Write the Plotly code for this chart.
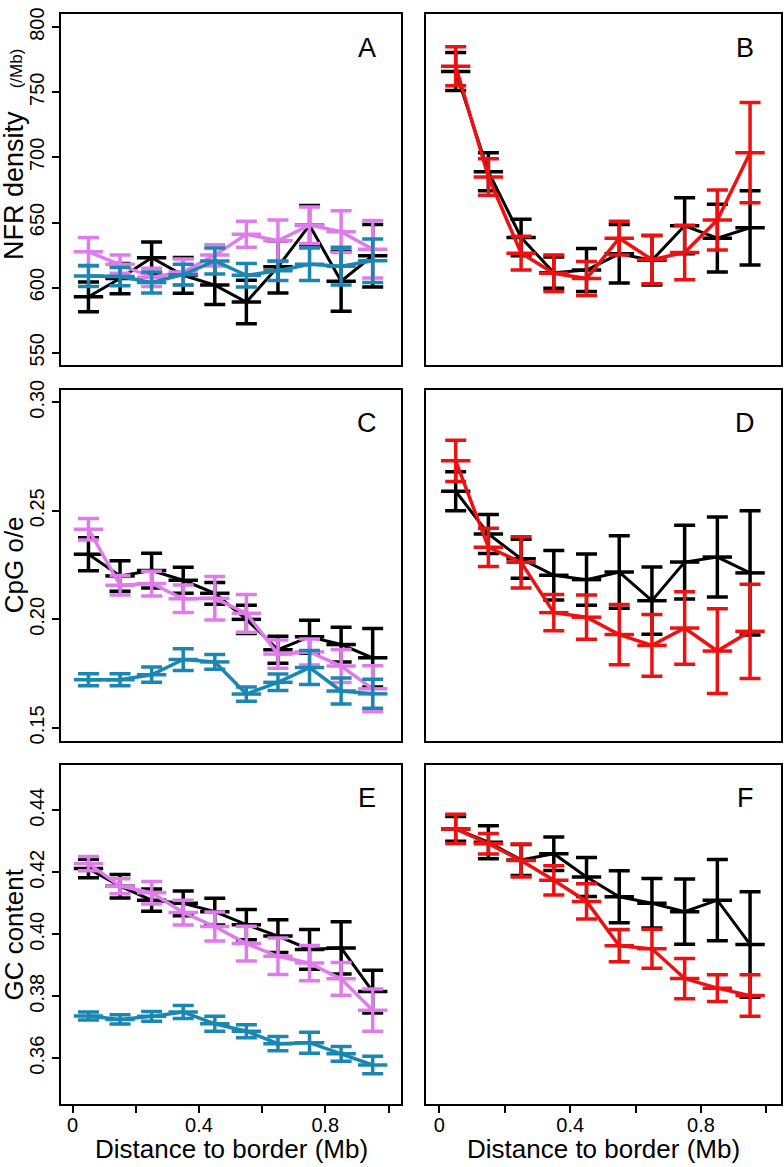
import plotly.graph_objects as go

# ---------------- data ----------------
distance = [0.05, 0.15, 0.25, 0.35, 0.45, 0.55, 0.65, 0.75, 0.85, 0.95]

# Panel A: NFR density
nfr_a_black = [593, 607, 623, 609.5, 602, 589, 616, 648, 605, 624.5]
nfr_a_black_se = [11.4, 11.6, 12, 13.7, 15, 16.7, 20, 15, 23, 24]
nfr_a_violet = [627.5, 618, 608, 612, 625, 641, 636, 648, 643, 629.5]
nfr_a_violet_se = [11, 7, 7, 10, 8, 10, 16, 14, 16, 22]
nfr_a_blue = [609, 608.5, 604, 610, 620.5, 609.5, 613, 618, 616.5, 620.6]
nfr_a_blue_se = [8, 7, 8, 8, 10, 9, 7.5, 12.5, 14.5, 16.7]

# Panel B: NFR density
nfr_b_black = [766, 689, 638.5, 611.5, 613.5, 626, 621, 647.5, 638, 646]
nfr_b_black_se = [14.6, 14.5, 14, 12, 16.5, 22.5, 19, 21.5, 26, 28.5]
nfr_b_red = [770, 685, 626.5, 611, 607, 638, 621.5, 627, 652, 703.6]
nfr_b_red_se = [15, 14, 13, 14, 13, 13, 18.5, 21, 23, 38.5]

# Panel C: CpG o/e
cpg_c_black = [0.230, 0.220, 0.2225, 0.218, 0.212, 0.200, 0.186, 0.192, 0.1884, 0.1823]
cpg_c_black_se = [0.0076, 0.007, 0.008, 0.006, 0.005, 0.0065, 0.0062, 0.0076, 0.008, 0.0135]
cpg_c_violet = [0.2415, 0.2157, 0.2165, 0.2095, 0.2097, 0.2028, 0.184, 0.185, 0.1785, 0.168]
cpg_c_violet_se = [0.005, 0.0045, 0.0057, 0.0063, 0.010, 0.0087, 0.0065, 0.006, 0.0076, 0.0106]
cpg_c_blue = [0.1722, 0.1722, 0.1745, 0.1815, 0.1804, 0.1656, 0.171, 0.1778, 0.167, 0.1657]
cpg_c_blue_se = [0.0028, 0.0028, 0.0035, 0.005, 0.0034, 0.0033, 0.0038, 0.0078, 0.006, 0.0067]

# Panel D: CpG o/e
cpg_d_black = [0.259, 0.2393, 0.2279, 0.2203, 0.2183, 0.2218, 0.2086, 0.2264, 0.2287, 0.2214]
cpg_d_black_se = [0.009, 0.009, 0.009, 0.0114, 0.0118, 0.0167, 0.0155, 0.017, 0.0184, 0.0286]
cpg_d_red = [0.273, 0.2332, 0.2263, 0.2031, 0.201, 0.193, 0.188, 0.196, 0.1854, 0.1945]
cpg_d_red_se = [0.0095, 0.0088, 0.0118, 0.0084, 0.0102, 0.0139, 0.0142, 0.0167, 0.0195, 0.0217]

# Panel E: GC content
gc_e_black = [0.4212, 0.4155, 0.411, 0.410, 0.4073, 0.4031, 0.3994, 0.3951, 0.3956, 0.3815]
gc_e_black_se = [0.003, 0.0038, 0.0036, 0.004, 0.0043, 0.0049, 0.0053, 0.0064, 0.0084, 0.0069]
gc_e_violet = [0.4228, 0.4155, 0.4134, 0.407, 0.4025, 0.397, 0.3929, 0.3907, 0.3856, 0.3755]
gc_e_violet_se = [0.0023, 0.0024, 0.0036, 0.004, 0.0047, 0.0056, 0.0059, 0.0057, 0.0053, 0.0068]
gc_e_blue = [0.3736, 0.3725, 0.3735, 0.3749, 0.3711, 0.3687, 0.3647, 0.365, 0.3614, 0.3578]
gc_e_blue_se = [0.0013, 0.0015, 0.0016, 0.0021, 0.0024, 0.0021, 0.0023, 0.0034, 0.0024, 0.0028]

# Panel F: GC content
gc_f_black = [0.434, 0.4297, 0.424, 0.426, 0.4185, 0.4121, 0.410, 0.4073, 0.411, 0.3967]
gc_f_black_se = [0.004, 0.0053, 0.005, 0.0054, 0.0063, 0.0084, 0.008, 0.0105, 0.0131, 0.017]
gc_f_red = [0.434, 0.4292, 0.4238, 0.4174, 0.4106, 0.3963, 0.3953, 0.3857, 0.3826, 0.3802]
gc_f_red_se = [0.0047, 0.0033, 0.0053, 0.0047, 0.0057, 0.0052, 0.0063, 0.0065, 0.0043, 0.0067]

x_tickvals = [0, 0.2, 0.4, 0.6, 0.8, 1.0]
x_ticktext = ["0", "", "0.4", "", "0.8", ""]
nfr_ticks = [550, 600, 650, 700, 750, 800]
cpg_ticks = [0.15, 0.20, 0.25, 0.30]
cpg_ticktext = ["0.15", "0.20", "0.25", "0.30"]
gc_ticks = [0.36, 0.38, 0.40, 0.42, 0.44]
gc_ticktext = ["0.36", "0.38", "0.40", "0.42", "0.44"]
panel_letters = ["A", "B", "C", "D", "E", "F"]

BLACK = "#000000"
VIOLET = "#E07BEB"
BLUE = "#1A87B3"
RED = "#EE1111"
FONT = "Liberation Sans, Arial, Helvetica, sans-serif"

W, H = 784, 1167


def px_x(v):
    return v / W


def px_y(v):
    return 1 - v / H


fig = go.Figure()


def add_series(idx, y, se, color, lw):
    suffix = "" if idx == 1 else str(idx)
    fig.add_trace(go.Scatter(
        x=distance, y=y, mode="lines+markers",
        line=dict(color=color, width=lw),
        marker=dict(symbol="line-ew", size=21, color=color,
                    line=dict(color=color, width=3.5)),
        error_y=dict(type="data", array=se, visible=True, color=color,
                     thickness=3.5, width=10.5),
        xaxis="x" + suffix, yaxis="y" + suffix,
        showlegend=False, hoverinfo="skip",
    ))


add_series(1, nfr_a_black, nfr_a_black_se, BLACK, 3)
add_series(1, nfr_a_violet, nfr_a_violet_se, VIOLET, 3.5)
add_series(1, nfr_a_blue, nfr_a_blue_se, BLUE, 3.5)
add_series(2, nfr_b_black, nfr_b_black_se, BLACK, 3)
add_series(2, nfr_b_red, nfr_b_red_se, RED, 3.5)
add_series(3, cpg_c_black, cpg_c_black_se, BLACK, 3)
add_series(3, cpg_c_violet, cpg_c_violet_se, VIOLET, 3.5)
add_series(3, cpg_c_blue, cpg_c_blue_se, BLUE, 3.5)
add_series(4, cpg_d_black, cpg_d_black_se, BLACK, 3)
add_series(4, cpg_d_red, cpg_d_red_se, RED, 3.5)
add_series(5, gc_e_black, gc_e_black_se, BLACK, 3)
add_series(5, gc_e_violet, gc_e_violet_se, VIOLET, 3.5)
add_series(5, gc_e_blue, gc_e_blue_se, BLUE, 3.5)
add_series(6, gc_f_black, gc_f_black_se, BLACK, 3)
add_series(6, gc_f_red, gc_f_red_se, RED, 3.5)

# panel boxes in page pixels: (left, right, top, bottom)
cols = [(61, 401), (425.7, 781)]
rows = [(4, 359.3), (384, 739.3), (764, 1106)]
# reference pixel positions of two labelled values on each axis (for scale)
x_cal = [((72.67, 0.0), (325.33, 0.8)), ((439.33, 0.0), (701.0, 0.8))]
y_cal = [((17.33, 800), (346.67, 550)), ((396.67, 0.30), (726.0, 0.15)), ((809.33, 0.44), (1060.0, 0.36))]


def lin(cal, p):
    (p0, v0), (p1, v1) = cal
    return v0 + (p - p0) * (v1 - v0) / (p1 - p0)


ytickinfo = [(nfr_ticks, [str(v) for v in nfr_ticks]), (cpg_ticks, cpg_ticktext), (gc_ticks, gc_ticktext)]

layout = dict(
    width=W, height=H, autosize=False,
    margin=dict(l=0, r=0, t=0, b=0),
    paper_bgcolor="white", plot_bgcolor="white",
    font=dict(family=FONT, color="black", size=20),
    showlegend=False,
)

annotations = []
for r in range(3):
    for c in range(2):
        idx = r * 2 + c + 1
        suffix = "" if idx == 1 else str(idx)
        l, rr = cols[c]
        t, b = rows[r]
        xa = dict(
            domain=[px_x(l), px_x(rr)], range=[lin(x_cal[c], l), lin(x_cal[c], rr)],
            anchor="y" + suffix,
            showline=True, mirror=True, linecolor="black", linewidth=2,
            showgrid=False, zeroline=False, fixedrange=True,
        )
        if r == 2:
            xa.update(ticks="outside", ticklen=7, tickwidth=2, tickcolor="black",
                      tickvals=x_tickvals, ticktext=x_ticktext,
                      ticklabelstandoff=-5,
                      tickfont=dict(size=20, family=FONT))
        else:
            xa.update(ticks="", showticklabels=False)
        ya = dict(
            domain=[px_y(b), px_y(t)],
            range=[lin(y_cal[r], b), lin(y_cal[r], t)], anchor="x" + suffix,
            showline=True, mirror=True, linecolor="black", linewidth=2,
            showgrid=False, zeroline=False, fixedrange=True,
        )
        if c == 0:
            tv, tt = ytickinfo[r]
            ya.update(ticks="outside", ticklen=7, tickwidth=2, tickcolor="black",
                      tickvals=tv, ticktext=tt, tickangle=-90,
                      tickfont=dict(size=20, family=FONT))
        else:
            ya.update(ticks="", showticklabels=False)
        layout["xaxis" + suffix] = xa
        layout["yaxis" + suffix] = ya

        # panel letter
        lx = 367 if c == 0 else 745
        ly = [38, 418, 797][r]
        annotations.append(dict(
            text=panel_letters[idx - 1], x=px_x(lx), y=px_y(ly),
            xref="paper", yref="paper", showarrow=False,
            xanchor="center", yanchor="middle",
            font=dict(size=27, family=FONT, color="black"),
        ))

# y-axis titles
annotations.append(dict(text="NFR density", x=px_x(14), y=px_y(178), xref="paper", yref="paper",
                        textangle=-90, showarrow=False, xanchor="center", yanchor="middle",
                        font=dict(size=27, family=FONT)))
annotations.append(dict(text="(/Mb)", x=px_x(16), y=px_y(59), xref="paper", yref="paper",
                        textangle=-90, showarrow=False, xanchor="center", yanchor="middle",
                        font=dict(size=17, family=FONT)))
annotations.append(dict(text="CpG o/e", x=px_x(14), y=px_y(561.5), xref="paper", yref="paper",
                        textangle=-90, showarrow=False, xanchor="center", yanchor="middle",
                        font=dict(size=26, family=FONT)))
annotations.append(dict(text="GC content", x=px_x(14), y=px_y(935), xref="paper", yref="paper",
                        textangle=-90, showarrow=False, xanchor="center", yanchor="middle",
                        font=dict(size=26, family=FONT)))
# x-axis titles
for cx in (231, 603):
    annotations.append(dict(text="Distance to border (Mb)", x=px_x(cx), y=px_y(1152),
                            xref="paper", yref="paper", showarrow=False,
                            xanchor="center", yanchor="middle",
                            font=dict(size=26, family=FONT)))

layout["annotations"] = annotations
fig.update_layout(**layout)
# remove the browser's default 8px body margin so the figure fills the window exactly
fig.write_html("out.html", config={"displayModeBar": False},
               post_script="document.body.style.margin='0px';document.body.style.overflow='hidden';")
